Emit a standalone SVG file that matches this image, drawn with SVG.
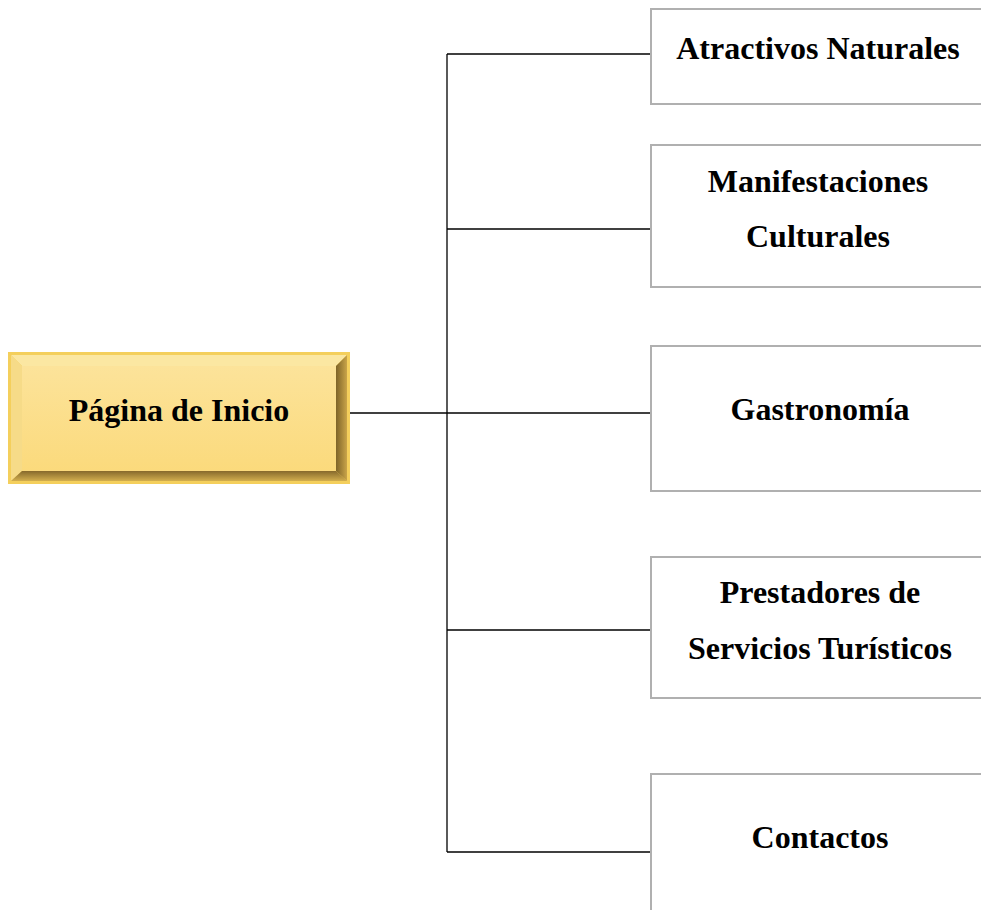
<svg xmlns="http://www.w3.org/2000/svg" width="981" height="910" viewBox="0 0 981 910">
<defs>
<linearGradient id="face" x1="0" y1="0" x2="0" y2="1">
<stop offset="0" stop-color="#FCE39A"/>
<stop offset="1" stop-color="#FBDA7C"/>
</linearGradient>
<linearGradient id="rbev" x1="0" y1="0" x2="1" y2="0">
<stop offset="0" stop-color="#7E6428"/>
<stop offset="1" stop-color="#C9A449"/>
</linearGradient>
<linearGradient id="bbev" x1="0" y1="0" x2="0" y2="1">
<stop offset="0" stop-color="#86692C"/>
<stop offset="1" stop-color="#D2AE4E"/>
</linearGradient>
</defs>
<style>
.box{fill:#fff;stroke:none}
.edge{stroke:#B0B0B0;stroke-width:2;fill:none}
.conn{stroke:#000;stroke-width:1.3;fill:none}
.t{font-family:"Liberation Serif","Times New Roman",serif;font-weight:bold;font-size:32px;fill:#000;text-anchor:middle}
</style>
<rect width="981" height="910" fill="#fff"/>
<g id="connectors">
<line class="conn" x1="447" y1="54" x2="447" y2="852"/>
<line class="conn" x1="447" y1="54" x2="651" y2="54"/>
<line class="conn" x1="447" y1="229" x2="651" y2="229"/>
<line class="conn" x1="350" y1="413" x2="651" y2="413"/>
<line class="conn" x1="447" y1="630" x2="651" y2="630"/>
<line class="conn" x1="447" y1="852" x2="651" y2="852"/>
</g>
<g id="inicio">
<rect x="8" y="352" width="342" height="132" fill="#F4CF5C"/>
<polygon points="11,355 347,355 336,366 22,366" fill="#FBE7A2"/>
<polygon points="11,355 22,366 22,471 11,481" fill="#F6DB88"/>
<polygon points="347,355 347,481 336,471 336,366" fill="url(#rbev)"/>
<polygon points="11,481 347,481 336,471 22,471" fill="url(#bbev)"/>
<rect x="22" y="366" width="314" height="105" fill="url(#face)"/>
<text class="t" x="179" y="421">Página de Inicio</text>
</g>
<g id="atractivos">
<path class="edge" d="M981,9 H651 V104 H981"/>
<text class="t" x="818" y="59">Atractivos Naturales</text>
</g>
<g id="manifestaciones">
<path class="edge" d="M981,145 H651 V287 H981"/>
<text class="t" x="818" y="192">Manifestaciones</text>
<text class="t" x="818" y="247">Culturales</text>
</g>
<g id="gastronomia">
<path class="edge" d="M981,346 H651 V491 H981"/>
<text class="t" x="820" y="420">Gastronomía</text>
</g>
<g id="prestadores">
<path class="edge" d="M981,557 H651 V698 H981"/>
<text class="t" x="820" y="603">Prestadores de</text>
<text class="t" x="820" y="659">Servicios Turísticos</text>
</g>
<g id="contactos">
<path class="edge" d="M981,774 H651 V910"/>
<text class="t" x="820" y="848">Contactos</text>
</g>
</svg>
